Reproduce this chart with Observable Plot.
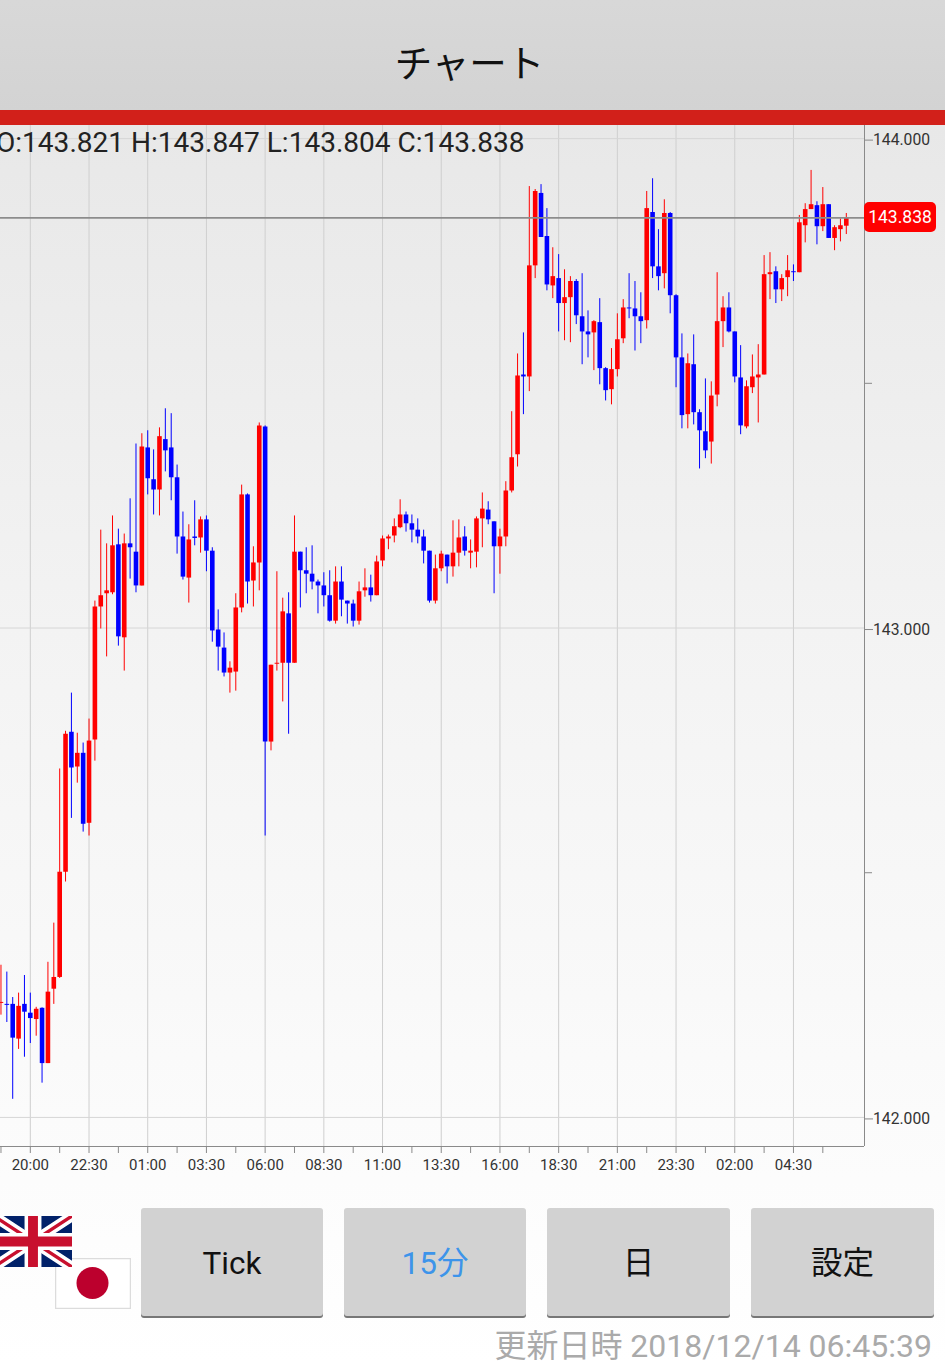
<!DOCTYPE html>
<html lang="ja">
<head>
<meta charset="utf-8">
<script src="https://cdn.jsdelivr.net/npm/d3@7"></script>
<script src="https://cdn.jsdelivr.net/npm/@observablehq/plot@0.6"></script>
<style>
html,body{margin:0;padding:0;}
body{width:945px;height:1363px;position:relative;overflow:hidden;background:linear-gradient(#e8e8e8 125px,#f3f3f3 629px,#ffffff 1363px);font-family:Roboto,"Noto Sans CJK JP",sans-serif;}
#head{position:absolute;left:0;top:0;width:945px;height:110px;background:linear-gradient(#d8d8d8,#d3d3d3);text-align:center;font-size:37.5px;color:#111;font-family:"Noto Sans CJK JP",sans-serif;}
#head span{position:absolute;left:-3px;width:945px;top:0;line-height:121px;}
#bar{position:absolute;left:0;top:110px;width:945px;height:15px;background:#d2201a;}
#chart{position:absolute;left:0;top:125px;}
#ohlc{position:absolute;left:-4px;top:125px;font-size:28.05px;line-height:36px;color:#222;white-space:nowrap;}
#tag{position:absolute;left:864px;top:202px;width:72px;height:30px;background:#ff0000;border-radius:5px;color:#fff;text-align:center;line-height:31px;font-size:17.5px;}
.btn{position:absolute;top:1208px;height:108px;background:#d2d2d2;border-radius:3px;box-shadow:0 2px 0 #777;text-align:center;line-height:112px;font-size:31.5px;color:#111;font-family:Roboto,"Noto Sans CJK JP",sans-serif;}
#upd{position:absolute;right:13px;top:1325px;font-size:32px;line-height:42px;color:#aaaaaa;white-space:nowrap;}
.flag{position:absolute;display:block;}
</style>
</head>
<body>
<div id="head"><span>チャート</span></div>
<div id="chart"></div>
<div id="bar"></div>
<div id="ohlc"></div>
<div id="tag"></div>
<svg class="flag" style="left:55px;top:1258px" width="76" height="51"><rect x="0.5" y="0.5" width="75" height="50" fill="#fff" stroke="#dcdcdc" stroke-width="1.5"/><circle cx="37.5" cy="25" r="16" fill="#bc002d"/></svg>
<svg class="flag" style="left:-6px;top:1216px" width="78" height="51" viewBox="0 0 60 39.2" preserveAspectRatio="none"><rect width="60" height="39.2" fill="#012169"/><path d="M0 0L60 39.2M60 0L0 39.2" stroke="#fff" stroke-width="8"/><path d="M0 0L60 39.2M60 0L0 39.2" stroke="#c8102e" stroke-width="2.6"/><path d="M30 0V39.2M0 19.6H60" stroke="#fff" stroke-width="13"/><path d="M30 0V39.2M0 19.6H60" stroke="#c8102e" stroke-width="7.6"/></svg>
<div class="btn" style="left:141px;width:182px;">Tick</div>
<div class="btn" style="left:344px;width:182px;color:#3d94ea;">15分</div>
<div class="btn" style="left:547px;width:183px;">日</div>
<div class="btn" style="left:751px;width:183px;">設定</div>
<div id="upd">更新日時 2018/12/14 06:45:39</div>
<script>
const openPrices = [142.233,142.231,142.231,142.160,142.231,142.213,142.200,142.223,142.110,142.262,142.286,142.501,142.787,142.716,142.744,142.601,142.771,143.043,143.070,143.072,143.170,142.980,143.172,143.155,143.086,143.368,143.303,143.282,143.385,143.368,143.307,143.186,143.102,143.186,143.184,143.221,143.157,142.996,142.959,142.908,142.910,143.041,143.272,143.096,143.133,143.411,142.767,142.926,142.928,143.029,142.928,143.155,143.117,143.110,143.094,143.086,143.066,143.014,143.094,143.055,143.049,143.014,143.076,143.082,143.066,143.137,143.182,143.188,143.205,143.231,143.213,143.200,143.186,143.157,143.055,143.121,143.149,143.125,143.153,143.186,143.153,143.155,143.223,143.241,143.217,143.166,143.186,143.280,143.354,143.517,143.513,143.740,143.888,143.800,143.699,143.714,143.663,143.675,143.708,143.636,143.605,143.603,143.624,143.530,143.487,143.528,143.591,143.654,143.652,143.636,143.628,143.849,143.738,143.724,143.847,143.679,143.552,143.436,143.538,143.440,143.401,143.380,143.476,143.626,143.654,143.605,143.511,143.411,143.491,143.511,143.517,143.722,143.728,143.691,143.716,143.728,143.726,143.822,143.855,143.863,143.820,143.865,143.796,143.814,143.821];
const closePrices = [142.235,142.229,142.162,142.227,142.215,142.202,142.221,142.110,142.256,142.286,142.501,142.783,142.714,142.744,142.599,142.769,143.043,143.066,143.076,143.168,142.982,143.172,143.164,143.086,143.370,143.305,143.282,143.391,143.362,143.307,143.186,143.104,143.180,143.183,143.221,143.157,142.994,142.961,142.908,142.918,143.041,143.272,143.094,143.133,143.413,142.767,142.924,142.928,143.033,142.928,143.155,143.117,143.110,143.094,143.086,143.066,143.014,143.094,143.057,143.049,143.014,143.074,143.082,143.066,143.135,143.182,143.186,143.207,143.231,143.213,143.200,143.186,143.157,143.055,143.121,143.151,143.125,143.153,143.184,143.157,143.157,143.223,143.243,143.221,143.166,143.186,143.280,143.348,143.515,143.513,143.740,143.892,143.798,143.701,143.718,143.663,143.675,143.708,143.638,143.605,143.599,143.626,143.530,143.485,143.528,143.589,143.654,143.652,143.636,143.626,143.857,143.738,143.718,143.847,143.679,143.552,143.434,143.540,143.440,143.403,143.362,143.474,143.626,143.654,143.605,143.513,143.413,143.493,143.513,143.517,143.722,143.726,143.691,143.714,143.730,143.726,143.828,143.855,143.865,143.820,143.865,143.796,143.818,143.822,143.838];
const highPrices = [142.311,142.297,142.245,142.254,142.290,142.254,142.225,142.224,142.317,142.397,142.712,142.789,142.867,142.785,142.765,142.814,143.055,143.200,143.172,143.229,143.202,143.192,143.264,143.376,143.397,143.403,143.364,143.409,143.448,143.438,143.333,143.237,143.211,143.260,143.227,143.229,143.164,143.037,142.990,142.931,143.070,143.292,143.274,143.166,143.419,143.413,142.924,143.115,143.061,143.072,143.229,143.155,143.164,143.168,143.098,143.113,143.117,143.125,143.125,143.055,143.057,143.094,143.121,143.108,143.147,143.188,143.190,143.223,143.262,143.237,143.231,143.223,143.200,143.157,143.149,143.157,143.149,143.219,143.221,143.207,143.180,143.227,143.276,143.258,143.217,143.202,143.299,143.442,143.560,143.603,143.902,143.896,143.906,143.857,143.777,143.763,143.732,143.718,143.712,143.724,143.648,143.628,143.673,143.532,143.571,143.642,143.671,143.724,143.708,143.685,143.892,143.918,143.814,143.875,143.849,143.681,143.601,143.560,143.599,143.446,143.509,143.503,143.726,143.677,143.685,143.605,143.577,143.505,143.558,143.579,143.761,143.767,143.738,143.722,143.761,143.742,143.843,143.867,143.935,143.871,143.900,143.865,143.822,143.836,143.847];
const lowPrices = [142.209,142.194,142.037,142.139,142.123,142.151,142.166,142.070,142.110,142.231,142.284,142.481,142.611,142.683,142.583,142.575,142.728,142.998,142.941,143.068,142.963,142.912,143.100,143.072,143.086,143.272,143.231,143.229,143.319,143.260,143.151,143.098,143.051,143.168,143.153,143.115,142.971,142.912,142.900,142.867,142.871,143.031,143.049,143.043,143.076,142.575,142.749,142.912,142.849,142.783,142.928,143.041,143.070,143.078,143.029,143.043,143.012,143.008,143.023,143.008,143.002,143.006,143.063,143.053,143.066,143.125,143.160,143.174,143.203,143.196,143.174,143.172,143.131,143.051,143.049,143.115,143.090,143.104,143.125,143.147,143.121,143.123,143.164,143.211,143.070,143.110,143.166,143.276,143.329,143.436,143.483,143.714,143.798,143.689,143.673,143.605,143.587,143.583,143.620,143.538,143.552,143.526,143.497,143.464,143.456,143.513,143.581,143.632,143.566,143.581,143.611,143.714,143.689,143.693,143.642,143.491,143.407,143.407,143.415,143.325,143.346,143.335,143.452,143.573,143.603,143.501,143.395,143.407,143.479,143.419,143.517,143.671,143.663,143.667,143.677,143.708,143.726,143.787,143.855,143.783,143.810,143.796,143.771,143.789,143.804];

const timeLabels = ["20:00","22:30","01:00","03:30","06:00","08:30","11:00","13:30","16:00","18:30","21:00","23:30","02:00","04:30"];
const majorTicks = [0,10,20,30,40,50,60,70,80,90,100,110,120,130];
const minorTicks = [-5,5,15,25,35,45,55,65,75,85,95,105,115,125,135];
const priceTicks = [144,143,142];
const minorPriceTicks = [143.5,142.5];
const lastPrice = 143.838;

const candleIdx = d3.range(-5, 140);
const rows = candleIdx.map((idx, i) => ({
  idx, open: openPrices[i], high: highPrices[i], low: lowPrices[i], close: closePrices[i],
  color: closePrices[i] >= openPrices[i] ? "#ff0000" : "#0000ff"
}));
const axisColor = "#8a8a8a";
const gridColor = "#cfcfcf";
const xDomain = [-5.08, 142.1];
const yDomain = [141.9406, 144.0268];

const plot = Plot.plot({
  width: 945, height: 1055,
  marginLeft: 0, marginRight: 81, marginTop: 0, marginBottom: 34,
  style: {background: "transparent", overflow: "visible", fontFamily: "Roboto, sans-serif"},
  x: {domain: xDomain, axis: null},
  y: {domain: yDomain, axis: null},
  marks: [
    Plot.ruleX(majorTicks, {x: d => d, stroke: gridColor, strokeWidth: 1}),
    Plot.ruleY(priceTicks, {y: d => d, stroke: "#d6d6d6", strokeWidth: 1}),
    Plot.ruleX(rows, {x: "idx", y1: "low", y2: "high", stroke: "color", strokeWidth: 1}),
    Plot.ruleX(rows, {x: "idx", y1: "open", y2: "close", stroke: "color", strokeWidth: 4.6}),
    Plot.ruleY([lastPrice], {y: d => d, stroke: "#8c8c8c", strokeWidth: 1.6}),
    Plot.ruleX([xDomain[1]], {x: d => d, stroke: axisColor, strokeWidth: 1}),
    Plot.ruleY([yDomain[0]], {y: d => d, stroke: axisColor, strokeWidth: 1}),
    Plot.axisX(majorTicks, {anchor: "bottom", label: null, tickSize: 7, tickPadding: 6, stroke: axisColor, fill: "#333", fontSize: 15,
      tickFormat: d => timeLabels[majorTicks.indexOf(d)]}),
    Plot.axisX(minorTicks, {anchor: "bottom", label: null, tickSize: 7, stroke: axisColor, tickFormat: () => ""}),
    Plot.axisY(priceTicks, {anchor: "right", label: null, tickSize: 8, tickPadding: 0.5, dy: 1.5, stroke: axisColor, fill: "#333", fontSize: 15.7,
      tickFormat: d => d.toFixed(3)}),
    Plot.axisY(minorPriceTicks, {anchor: "right", label: null, tickSize: 7, stroke: axisColor, tickFormat: () => ""})
  ]
});
document.getElementById("chart").appendChild(plot);
const last = rows[rows.length - 1];
document.getElementById("ohlc").textContent =
  `O:${last.open.toFixed(3)} H:${last.high.toFixed(3)} L:${last.low.toFixed(3)} C:${last.close.toFixed(3)}`;
document.getElementById("tag").textContent = lastPrice.toFixed(3);
</script>
</body>
</html>
